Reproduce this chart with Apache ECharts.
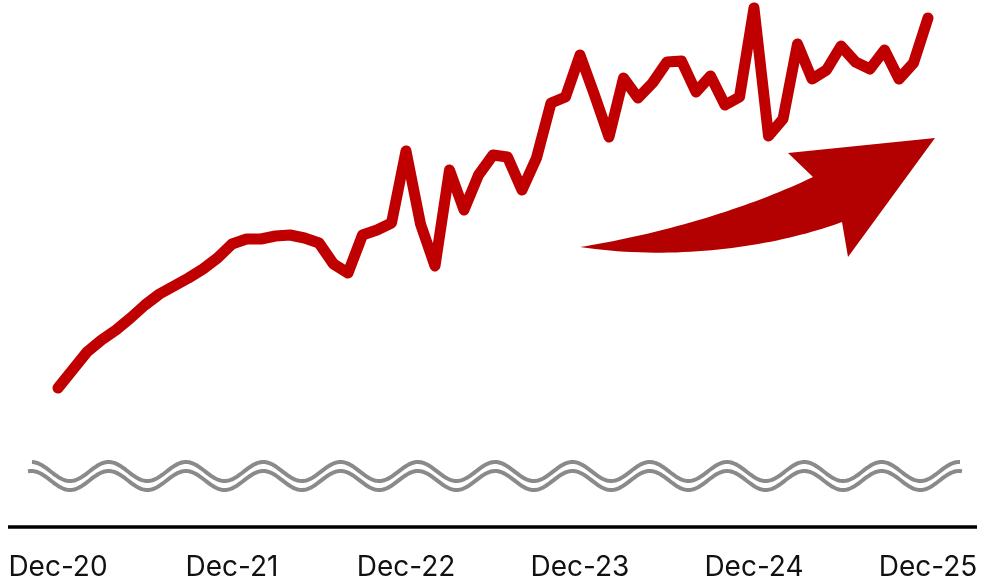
<!DOCTYPE html>
<html>
<head>
<meta charset="utf-8">
<script src="https://cdn.jsdelivr.net/npm/echarts@6/dist/echarts.min.js"></script>
<style>
html,body{margin:0;padding:0;background:#fff;}
#chart{width:982px;height:584px;}
</style>
</head>
<body>
<div id="chart"></div>
<script>
// Months Dec-20 .. Dec-25
const monthNames = ['Jan','Feb','Mar','Apr','May','Jun','Jul','Aug','Sep','Oct','Nov','Dec'];
const categories = [];
for (let yr = 20; yr <= 25; yr++) {
  for (let m = 0; m < 12; m++) {
    if (yr === 20 && m < 11) continue;
    categories.push(monthNames[m] + '-' + yr);
  }
}
const tickLabels = ['Dec-20','Dec-21','Dec-22','Dec-23','Dec-24','Dec-25'];

// values (arbitrary index units, axis is broken / unlabeled)
const values = [
  139, 157, 175, 187, 197, 209, 222, 233, 241, 249, 258, 269,
  283, 288, 288, 291, 292, 289, 284, 263, 254, 292, 297, 304,
  376, 303, 261, 357, 317, 352, 372, 370, 337, 369, 424, 430,
  472, 432, 390, 449, 429, 444, 465, 466, 435, 451, 422, 430,
  519, 391, 408, 483, 448, 457, 481, 465, 458, 477, 448, 464,
  509
];

const chart = echarts.init(document.getElementById('chart'));

// decorative axis-break wave
function wave(x0, x1, yc, amp, period, xTrough) {
  const pts = [];
  for (let x = x0; x <= x1; x += 1) {
    pts.push([x, yc + amp * Math.cos(2 * Math.PI * (x - xTrough) / period)]);
  }
  return pts;
}
const P = 77.3;

// decorative arrow outline built from cubic curves
function cubic(p0, p1, p2, p3, n) {
  const pts = [];
  for (let i = 0; i <= n; i++) {
    const t = i / n, u = 1 - t;
    pts.push([
      u*u*u*p0[0] + 3*u*u*t*p1[0] + 3*u*t*t*p2[0] + t*t*t*p3[0],
      u*u*u*p0[1] + 3*u*u*t*p1[1] + 3*u*t*t*p2[1] + t*t*t*p3[1]
    ]);
  }
  return pts;
}
const arrowPts = []
  .concat(cubic([580,247],[650,236],[740,212],[813,177], 40))
  .concat([[788,153],[935,138],[848,257]])
  .concat(cubic([842,222],[780,245],[680,262],[580,247], 40));

const option = {
  animation: false,
  grid: { left: 58, right: 54, top: 0, bottom: 57 },
  xAxis: {
    type: 'category',
    data: categories,
    boundaryGap: false,
    axisLine: { show: false },
    axisTick: { show: false },
    splitLine: { show: false },
    axisLabel: {
      interval: 11,
      fontFamily: 'Inter',
      fontSize: 28,
      color: '#111',
      margin: 41,
      verticalAlign: 'middle',
      formatter: function (v) { return tickLabels.indexOf(v) >= 0 ? v : ''; }
    }
  },
  yAxis: {
    type: 'value',
    min: 0,
    max: 527,
    show: false,
    splitLine: { show: false }
  },
  series: [{
    type: 'line',
    data: values,
    symbol: 'none',
    lineStyle: { color: '#c00000', width: 11, cap: 'round', join: 'round' },
    z: 5
  }],
  graphic: [
    {
      type: 'line',
      shape: { x1: 8, y1: 527, x2: 977, y2: 527 },
      style: { stroke: '#000', lineWidth: 3.5 }
    },
    {
      type: 'polyline',
      shape: { points: wave(32, 960, 471.5, 9.5, P, 70) },
      style: { stroke: '#8a8a8a', lineWidth: 4, fill: null }
    },
    {
      type: 'polyline',
      shape: { points: wave(28, 962, 480.5, 9.5, P, 70) },
      style: { stroke: '#8a8a8a', lineWidth: 4, fill: null }
    },
    {
      type: 'polygon',
      shape: { points: arrowPts },
      style: { fill: '#b30000' }
    }
  ]
};
chart.setOption(option);
</script>
</body>
</html>
